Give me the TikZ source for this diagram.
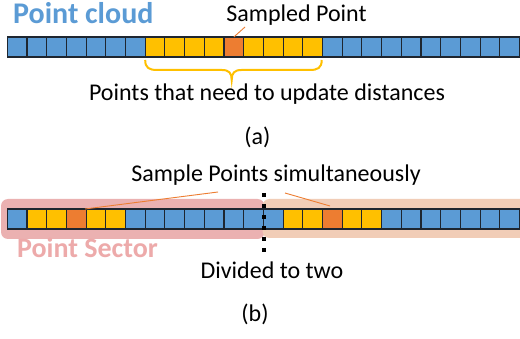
\documentclass[tikz,border=0pt]{standalone}
\usepackage{fontspec}
\setmainfont{Carlito}
\definecolor{cblue}{HTML}{5B9BD5}
\definecolor{cyell}{HTML}{FFC000}
\definecolor{corng}{HTML}{ED7D31}
\definecolor{cpink}{HTML}{EBB1B1}
\definecolor{cpeach}{HTML}{F1CDB7}
\definecolor{cpinktxt}{HTML}{EDAAAA}
\definecolor{cedge}{HTML}{1E2630}
\begin{document}
\begin{tikzpicture}[x=1pt,y=-1pt,
  cell/.style={draw=cedge,line width=1.1pt,minimum width=19.7pt,minimum height=20pt,inner sep=0pt,outer sep=0pt},
  lbl/.style={font=\fontsize{24}{28}\selectfont,inner sep=0pt,anchor=base},
  ttl/.style={font=\fontsize{29}{33}\selectfont\bfseries,inner sep=0pt,anchor=base west},
  lead/.style={draw=corng,line width=0.9pt},
  sector/.style={rounded corners=7pt}]
\clip (0,0) rectangle (520,339);
\fill[white] (0,0) rectangle (520,339);
% ---- (a) ----
\node[ttl,text=cblue,font=\fontsize{30}{34}\selectfont\bfseries] (pc) at (13,24) {Point cloud};
\foreach \i in {0,...,25}{
  \pgfmathsetmacro{\cx}{7.3+19.7*(\i+0.5)}
  \ifnum\i<7 \def\cc{cblue}\else\ifnum\i=11 \def\cc{corng}\else\ifnum\i<16 \def\cc{cyell}\else\def\cc{cblue}\fi\fi\fi
  \node[cell,fill=\cc] (t\i) at (\cx,47) {};
}
\node[lbl] (sp) at (296.5,22) {Sampled Point};
\coordinate (spl) at (245,27);
\draw[lead] (spl) -- (t11.north);
\draw[cyell,line width=2pt] (t7.south west) ++(0,3)
  .. controls +(0,8) and +(-8,0) .. ++(12,10) -- (222,70)
  .. controls +(7,0) and +(0,-7) .. (231.7,80)
  .. controls +(0,-7) and +(-7,0) .. (241.4,70) -- (309.7,70)
  .. controls +(8,0) and +(0,8) .. (321.7,60);
\node[lbl] (upd) at (267,101) {Points that need to update distances};
\node[lbl] (la) at (257.5,145) {(a)};
% ---- (b) ----
\fill[cpink,sector] (1,199) rectangle (264.5,239);
\fill[cpeach,sector] (262.5,199) rectangle (540,238);
\foreach \i in {0,...,25}{
  \pgfmathsetmacro{\cx}{7.3+19.7*(\i+0.5)}
  \ifnum\i=3 \def\cc{corng}\else\ifnum\i=16 \def\cc{corng}\else
  \ifnum\i<1 \def\cc{cblue}\else\ifnum\i<6 \def\cc{cyell}\else
  \ifnum\i<14 \def\cc{cblue}\else\ifnum\i<19 \def\cc{cyell}\else\def\cc{cblue}\fi\fi\fi\fi\fi\fi
  \node[cell,fill=\cc] (b\i) at (\cx,219) {};
}
\node[lbl] (sps) at (276,182) {Sample Points simultaneously};
\coordinate (sl) at (218,192);
\coordinate (sr) at (285,193);
\coordinate (el) at (85,209);
\coordinate (er) at (330,206);
\draw[lead] (sl) -- (el);
\draw[lead] (sr) -- (er);
\coordinate (dt) at (263.5,193);
\coordinate (db) at (263.5,252);
\draw[black,line width=4pt,dash pattern=on 4pt off 7pt] (dt) -- (db);
\node[ttl,text=cpinktxt,font=\fontsize{28}{32}\selectfont\bfseries] (ps) at (17,258) {Point Sector};
\node[lbl] (div) at (272,279) {Divided to two};
\node[lbl] (lb) at (255,322) {(b)};
\end{tikzpicture}
\end{document}
